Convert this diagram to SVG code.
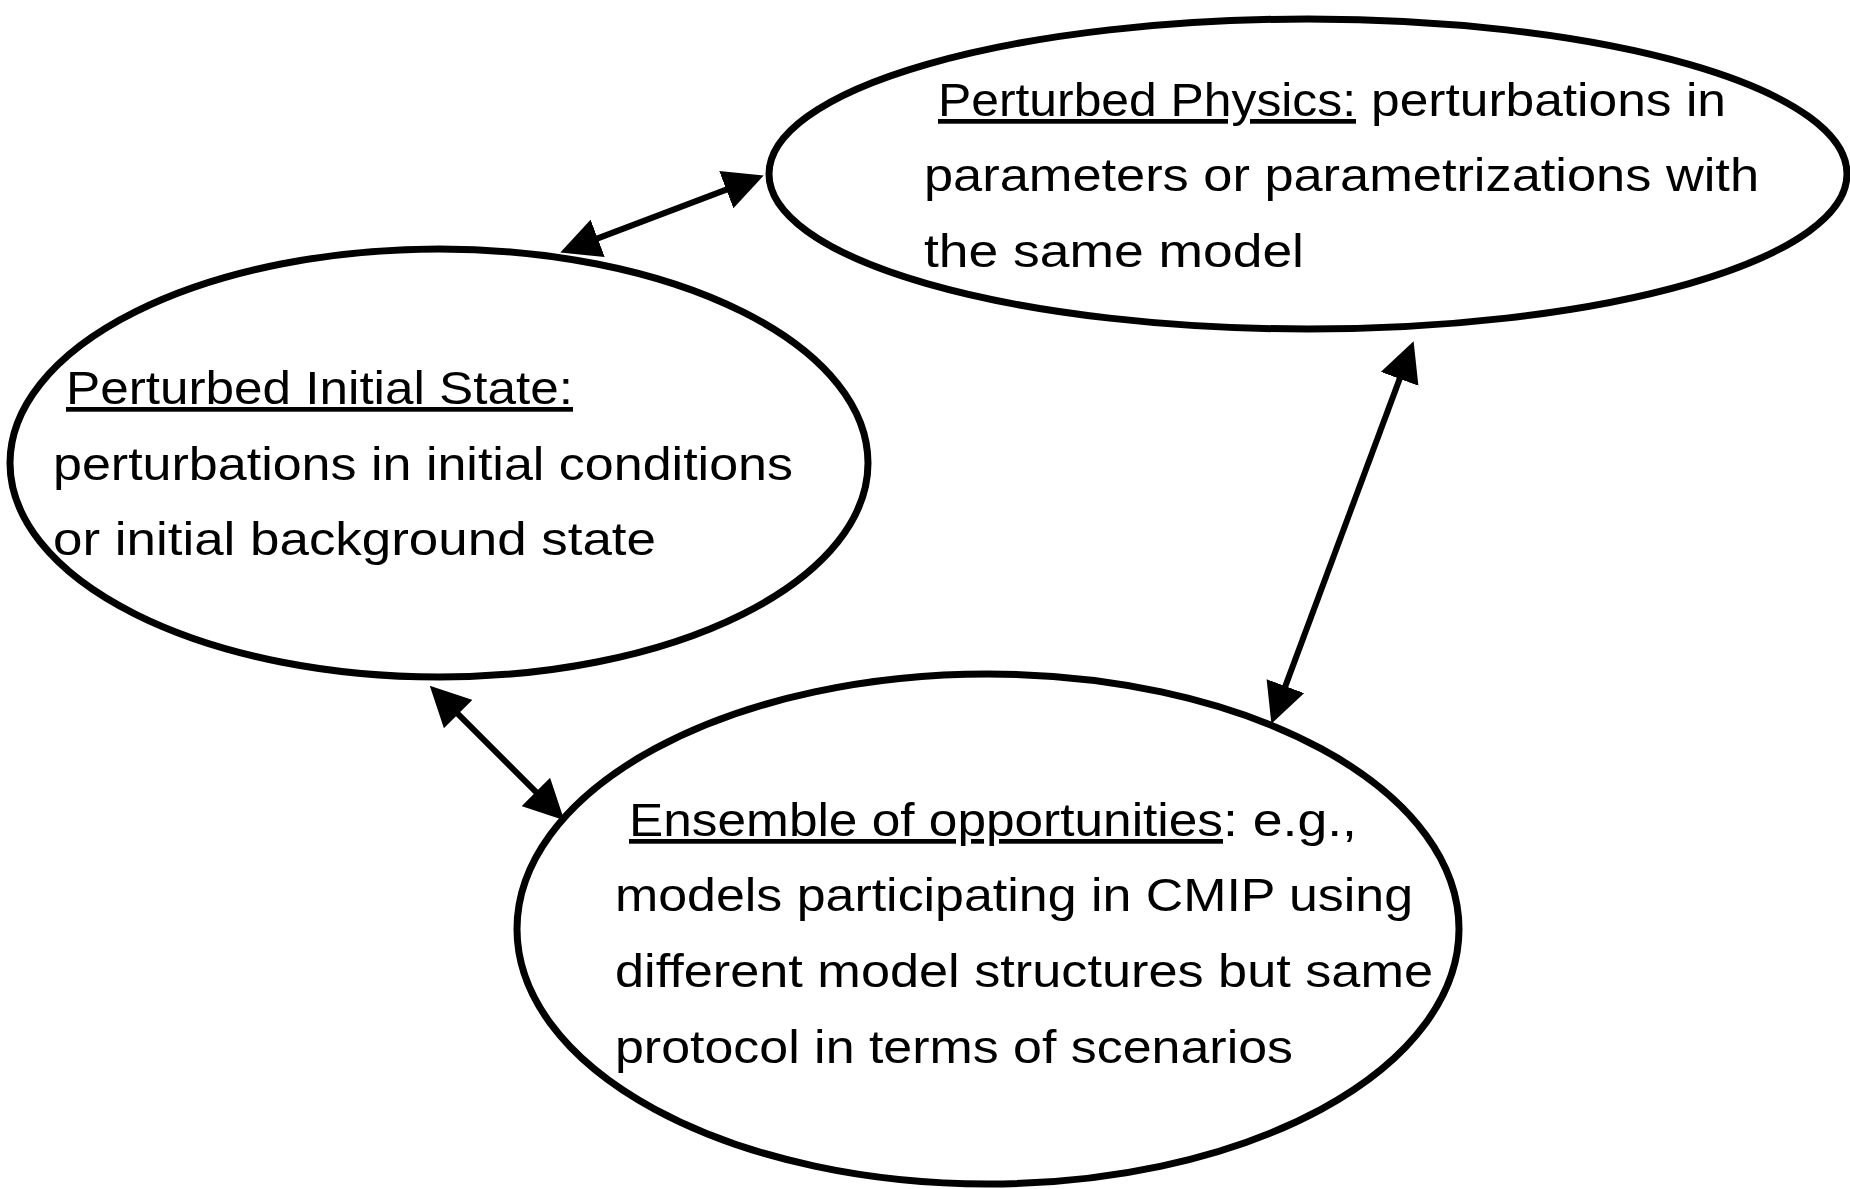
<svg xmlns="http://www.w3.org/2000/svg" width="1850" height="1189" viewBox="0 0 1850 1189">
<style>
.node{fill:#fff;stroke:#000;stroke-width:7}
.t{font-family:"Liberation Sans",Arial,sans-serif;font-size:47px;fill:#000}
.u{text-decoration:underline}
.conn{stroke:#000;stroke-width:6;fill:none}
</style>
<defs>
<marker id="ah" markerUnits="userSpaceOnUse" markerWidth="40" markerHeight="40" viewBox="0 0 34 34" refX="24" refY="17" orient="auto-start-reverse">
<path d="M0,0 L34,17 L0,34 z" fill="#000"/>
</marker>
</defs>
<rect width="1850" height="1189" fill="#fff"/>
<g id="node-physics">
<ellipse class="node" cx="1308" cy="174" rx="539" ry="155"/>
<text class="t u" x="938" y="116" textLength="418" lengthAdjust="spacingAndGlyphs">Perturbed Physics:</text>
<text class="t" x="1371" y="116" textLength="355" lengthAdjust="spacingAndGlyphs">perturbations in</text>
<text class="t" x="924" y="191" textLength="835" lengthAdjust="spacingAndGlyphs">parameters or parametrizations with</text>
<text class="t" x="924" y="267" textLength="380" lengthAdjust="spacingAndGlyphs">the same model</text>
</g>
<g id="node-initial">
<ellipse class="node" cx="439" cy="463" rx="429" ry="214"/>
<text class="t u" x="66" y="404" textLength="507" lengthAdjust="spacingAndGlyphs">Perturbed Initial State:</text>
<text class="t" x="53" y="480" textLength="740" lengthAdjust="spacingAndGlyphs">perturbations in initial conditions</text>
<text class="t" x="53" y="555" textLength="603" lengthAdjust="spacingAndGlyphs">or initial background state</text>
</g>
<g id="node-ensemble">
<ellipse class="node" cx="988" cy="929" rx="471" ry="255"/>
<text class="t u" x="629" y="836" textLength="594" lengthAdjust="spacingAndGlyphs">Ensemble of opportunities</text>
<text class="t" x="1223" y="836" textLength="134" lengthAdjust="spacingAndGlyphs">: e.g.,</text>
<text class="t" x="615" y="911" textLength="798" lengthAdjust="spacingAndGlyphs">models participating in CMIP using</text>
<text class="t" x="615" y="987" textLength="818" lengthAdjust="spacingAndGlyphs">different model structures but same</text>
<text class="t" x="615" y="1063" textLength="678" lengthAdjust="spacingAndGlyphs">protocol in terms of scenarios</text>
</g>
<g id="connectors">
<line class="conn" x1="571.3" y1="248.4" x2="752.7" y2="179.6" marker-start="url(#ah)" marker-end="url(#ah)"/>
<line class="conn" x1="1409.5" y1="352.4" x2="1275.5" y2="712.6" marker-start="url(#ah)" marker-end="url(#ah)"/>
<line class="conn" x1="438.1" y1="694.1" x2="555.9" y2="811.9" marker-start="url(#ah)" marker-end="url(#ah)"/>
</g>
</svg>
